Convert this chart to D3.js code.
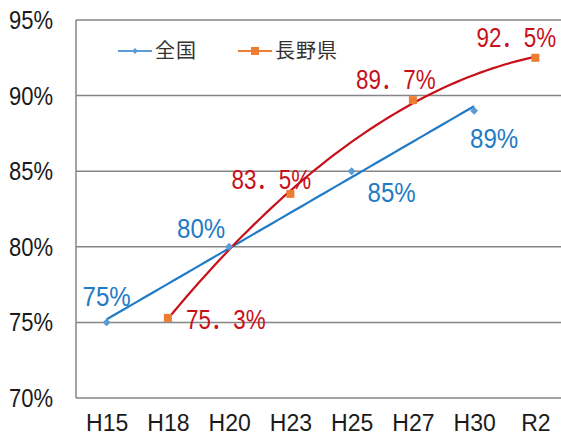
<!DOCTYPE html>
<html>
<head>
<meta charset="utf-8">
<script src="https://cdn.jsdelivr.net/npm/d3@7"></script>
<style>
  html, body { margin: 0; padding: 0; background: #fff; }
  svg { display: block; font-family: "Liberation Sans", "Noto Sans CJK JP", sans-serif; }
</style>
</head>
<body>
<svg id="chart" width="561" height="435"></svg>
<script>
// Survey years on the category axis
const categories = ["H15", "H18", "H20", "H23", "H25", "H27", "H30", "R2"];
// 全国 (national) rate, %
const nationalYears = ["H15", "H20", "H25", "H30"];
const nationalValues = [75, 80, 85, 89];
// 長野県 (Nagano) rate, %
const naganoYears = ["H18", "H23", "H27", "R2"];
const naganoValues = [75.3, 83.5, 89.7, 92.5];
// Value axis ticks, %
const yTicks = [70, 75, 80, 85, 90, 95];

// Hand-placed label offsets (dx, dy) from each marker
const nationalLabelOffsets = [[0, -26], [-28, -19], [40, 21], [20, 27]];
const naganoLabelOffsets = [[58, 1], [-19, -15], [-17, -21], [-19, -21]];

const W = 561, H = 435;
const plot = { left: 76, right: 566, top: 20, bottom: 398 };

const svg = d3.select("#chart");

const x = d3.scalePoint().domain(categories).range([plot.left, plot.right]).padding(0.5);
const y = d3.scaleLinear().domain([70, 95]).range([plot.bottom, plot.top]);
// category index -> pixel, used for trendlines
const xi = d3.scaleLinear().domain([0, categories.length - 1])
  .range([x(categories[0]), x(categories[categories.length - 1])]);

const gridColor = "#858585";

// Horizontally condensed text, anchored at (cx, cy)
function narrowText(sel, cx, cy, sx, anchor) {
  sel.attr("x", 0).attr("y", 0).attr("dy", "0.36em")
    .attr("text-anchor", anchor)
    .attr("transform", (d, i) => `translate(${cx(d, i)},${cy(d, i)}) scale(${sx},1)`);
}

// Horizontal gridlines
svg.append("g").selectAll("line").data(yTicks).join("line")
  .attr("x1", plot.left).attr("x2", W)
  .attr("y1", d => y(d)).attr("y2", d => y(d))
  .attr("stroke", gridColor).attr("stroke-width", 1.5);

// Value labels
svg.append("g").selectAll("text").data(yTicks).join("text")
  .call(narrowText, () => plot.left - 23, d => y(d), 0.88, "end")
  .attr("fill", "#1a1a1a").style("font-size", "25px")
  .text(d => d + "%");

// Left axis line
svg.append("line")
  .attr("x1", plot.left).attr("x2", plot.left)
  .attr("y1", y(95)).attr("y2", y(70))
  .attr("stroke", gridColor).attr("stroke-width", 1.5);

// Category labels
const xAxis = d3.axisBottom(x).tickSize(0);
const gx = svg.append("g").attr("transform", `translate(0,${plot.bottom})`).call(xAxis);
gx.select(".domain").remove();
gx.selectAll("text")
  .attr("y", 17).attr("dy", "0.71em")
  .attr("fill", "#1a1a1a").style("font-size", "23px")
  .style("font-family", "'Liberation Sans', sans-serif");

// Least-squares polynomial fit over category indices
function polyFit(xs, ys, degree) {
  const n = degree + 1;
  const A = Array.from({ length: n }, () => new Array(n + 1).fill(0));
  for (let r = 0; r < n; r++) {
    for (let c = 0; c < n; c++) A[r][c] = d3.sum(xs, v => Math.pow(v, r + c));
    A[r][n] = d3.sum(xs, (v, i) => Math.pow(v, r) * ys[i]);
  }
  for (let i = 0; i < n; i++) {
    let p = i;
    for (let k = i + 1; k < n; k++) if (Math.abs(A[k][i]) > Math.abs(A[p][i])) p = k;
    [A[i], A[p]] = [A[p], A[i]];
    for (let k = i + 1; k < n; k++) {
      const f = A[k][i] / A[i][i];
      for (let j = i; j <= n; j++) A[k][j] -= f * A[i][j];
    }
  }
  const coef = new Array(n).fill(0);
  for (let i = n - 1; i >= 0; i--) {
    let s = A[i][n];
    for (let j = i + 1; j < n; j++) s -= A[i][j] * coef[j];
    coef[i] = s / A[i][i];
  }
  return t => coef.reduce((acc, c, k) => acc + c * Math.pow(t, k), 0);
}

function trend(years, values, degree) {
  const idx = years.map(c => categories.indexOf(c));
  const f = polyFit(idx, values, degree);
  const t0 = d3.min(idx), t1 = d3.max(idx);
  return d3.range(0, 61).map(i => {
    const t = t0 + (t1 - t0) * i / 60;
    return [xi(t), y(f(t))];
  });
}

const line = d3.line();

// Trendlines: linear for 全国, quadratic for 長野県
svg.append("path")
  .attr("d", line(trend(nationalYears, nationalValues, 1)))
  .attr("fill", "none").attr("stroke", "#1f7bc6").attr("stroke-width", 2.2);
svg.append("path")
  .attr("d", line(trend(naganoYears, naganoValues, 2)))
  .attr("fill", "none").attr("stroke", "#c8101a").attr("stroke-width", 2.2);

// Markers
const diamond = d3.symbol().type(d3.symbolDiamond2).size(40);
svg.append("g").selectAll("path").data(nationalValues).join("path")
  .attr("d", diamond)
  .attr("transform", (d, i) => `translate(${x(nationalYears[i])},${y(d)})`)
  .attr("fill", "#5b9bd5");
svg.append("g").selectAll("rect").data(naganoValues).join("rect")
  .attr("x", (d, i) => x(naganoYears[i]) - 4).attr("y", d => y(d) - 4)
  .attr("width", 8).attr("height", 8)
  .attr("fill", "#ed7d31");

// Data labels
svg.append("g").selectAll("text").data(nationalValues).join("text")
  .call(narrowText,
    (d, i) => x(nationalYears[i]) + nationalLabelOffsets[i][0],
    (d, i) => y(d) + nationalLabelOffsets[i][1], 0.86, "middle")
  .attr("fill", "#1f7bc6").style("font-size", "28px")
  .text(d => d + "%");

const fmtWide = d => d3.format(".1f")(d).replace(".", "．") + "%";
svg.append("g").selectAll("text").data(naganoValues).join("text")
  .call(narrowText,
    (d, i) => x(naganoYears[i]) + naganoLabelOffsets[i][0],
    (d, i) => y(d) + naganoLabelOffsets[i][1], 0.83, "middle")
  .attr("fill", "#c8101a").style("font-size", "27px")
  .text(fmtWide);

// Legend
const legend = [
  { name: "全国", color: "#5b9bd5", x0: 118, shape: "diamond" },
  { name: "長野県", color: "#ed7d31", x0: 238, shape: "square" }
];
const lg = svg.append("g").selectAll("g").data(legend).join("g")
  .attr("transform", d => `translate(${d.x0},51)`);
lg.append("line").attr("x1", 0).attr("x2", 34).attr("y1", 0).attr("y2", 0)
  .attr("stroke", d => d.color).attr("stroke-width", 2);
lg.filter(d => d.shape === "diamond").append("path")
  .attr("d", d3.symbol().type(d3.symbolDiamond2).size(22))
  .attr("transform", "translate(17,0)").attr("fill", d => d.color);
lg.filter(d => d.shape === "square").append("rect")
  .attr("x", 13).attr("y", -4).attr("width", 8).attr("height", 8)
  .attr("fill", d => d.color);
lg.append("text").attr("x", 37).attr("y", 0).attr("dy", "0.36em")
  .attr("fill", "#333").style("font-size", "20px").style("letter-spacing", "1px")
  .style("font-family", "'Noto Sans CJK JP', sans-serif")
  .text(d => d.name);
</script>
</body>
</html>
